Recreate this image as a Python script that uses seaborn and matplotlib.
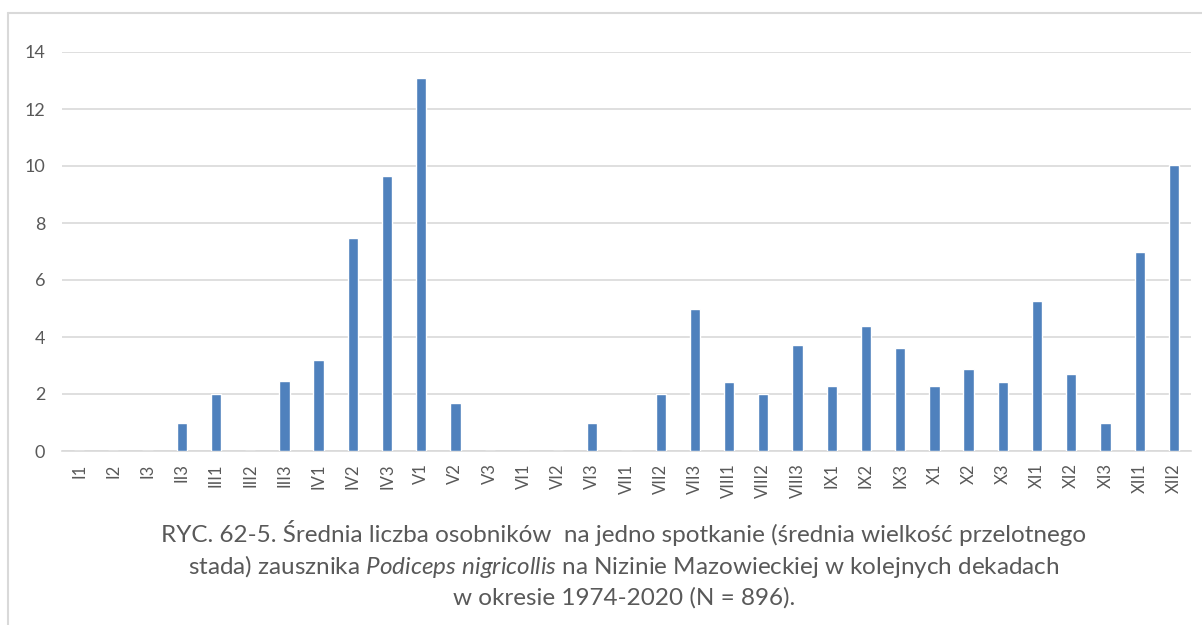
import matplotlib
matplotlib.use("Agg")
import matplotlib.pyplot as plt
import seaborn as sns
import pandas as pd
from matplotlib import font_manager
from matplotlib.lines import Line2D

categories = ["I1", "I2", "I3", "II3", "III1", "III2", "III3", "IV1", "IV2", "IV3",
              "V1", "V2", "V3", "VI1", "VI2", "VI3", "VII1", "VII2", "VII3",
              "VIII1", "VIII2", "VIII3", "IX1", "IX2", "IX3", "X1", "X2", "X3",
              "XI1", "XI2", "XI3", "XII1", "XII2"]
values = [0, 0, 0, 1.0, 2.0, 0, 2.46, 3.18, 7.46, 9.65,
          13.1, 1.68, 0, 0, 0, 1.0, 0, 2.0, 4.97,
          2.41, 2.0, 3.71, 2.28, 4.37, 3.6, 2.28, 2.87, 2.41,
          5.26, 2.7, 1.0, 6.98, 10.02]
y_ticks = [0, 2, 4, 6, 8, 10, 12, 14]
caption_lines = [
    "RYC. 62-5. Średnia liczba osobników  na jedno spotkanie (średnia wielkość przelotnego",
    "stada) zausznika $\\mathit{Podiceps\\ nigricollis}$ na Nizinie Mazowieckiej w kolejnych dekadach",
    "w okresie 1974-2020 (N = 896).",
]

sns.set_theme(style="white")
available = {f.name for f in font_manager.fontManager.ttflist}
fam = "Lato" if "Lato" in available else "DejaVu Sans"
plt.rcParams["font.family"] = [fam, "DejaVu Sans"]
plt.rcParams["mathtext.fontset"] = "custom"
plt.rcParams["mathtext.rm"] = fam
plt.rcParams["mathtext.it"] = fam + ":italic"

W, H = 1202, 625
fig = plt.figure(figsize=(W / 100, H / 100), dpi=100)
ax = fig.add_axes([62 / W, 1 - 451 / H, (1191 - 62) / W, (451 - 52) / H])

df = pd.DataFrame({"cat": categories, "val": values})
sns.barplot(data=df, x="cat", y="val", color="#4F81BD", saturation=1,
            width=0.3, ax=ax, zorder=3)
ax.set_ylim(0, 14)
ax.set_xlim(-0.5, len(categories) - 0.5)
ax.set_yticks(y_ticks)
ax.set_xlabel("")
ax.set_ylabel("")
ax.yaxis.grid(True, color="#D9D9D9", linewidth=1.2, zorder=0)
ax.set_axisbelow(True)
for s in ["top", "right", "left"]:
    ax.spines[s].set_visible(False)
ax.spines["bottom"].set_color("#D9D9D9")
ax.spines["bottom"].set_linewidth(1.2)
ax.tick_params(axis="x", rotation=90, labelsize=12, colors="#595959", length=0, pad=9)
ax.tick_params(axis="y", labelsize=13, colors="#595959", length=0, pad=12)
for lbl in ax.get_xticklabels():
    lbl.set_verticalalignment("top")

# outer frame (left and top lines)
fig.add_artist(Line2D([8 / W, 8 / W], [0, 1 - 13 / H], transform=fig.transFigure,
                      color="#D9D9D9", linewidth=1.5))
fig.add_artist(Line2D([8 / W, 1], [1 - 13 / H, 1 - 13 / H], transform=fig.transFigure,
                      color="#D9D9D9", linewidth=1.5))

ys = [533, 567, 598]
for line, y in zip(caption_lines, ys):
    fig.text(624 / W, 1 - y / H, line, ha="center", va="center", fontsize=17.5,
             color="#595959")

fig.savefig("out.png", dpi=100)
